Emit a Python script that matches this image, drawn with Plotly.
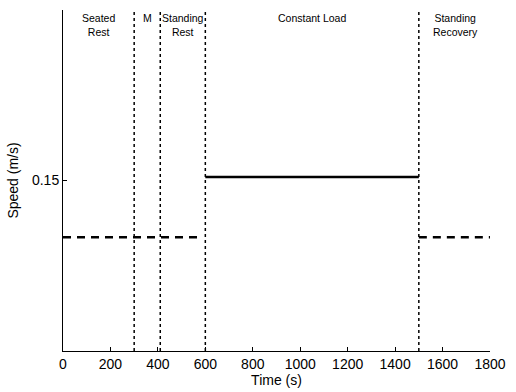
import plotly.graph_objects as go

# Phase boundaries (s)
boundaries = [300, 410, 600, 1500]
# Speed segments
dashed_rest_t = [0, 570]
dashed_rest_v = [0.1, 0.1]
load_t = [600, 1500]
load_v = [0.153, 0.153]
recovery_t = [1500, 1800]
recovery_v = [0.1, 0.1]
# Phase labels
phase_x = [150, 355, 505, 1050, 1655]
phase_text = ["Seated<br>Rest", "M", "Standing<br>Rest", "Constant Load", "Standing<br>Recovery"]
y_max = 0.3

fig = go.Figure()
for b in boundaries:
    fig.add_trace(go.Scatter(x=[b, b], y=[0, y_max], mode="lines",
                             line=dict(color="black", width=1.5, dash="dot"),
                             showlegend=False, hoverinfo="skip"))
fig.add_trace(go.Scatter(x=dashed_rest_t, y=dashed_rest_v, mode="lines",
                         line=dict(color="black", width=2.5, dash="8px,6px"), showlegend=False))
fig.add_trace(go.Scatter(x=recovery_t, y=recovery_v, mode="lines",
                         line=dict(color="black", width=2.5, dash="8px,6px"), showlegend=False))
fig.add_trace(go.Scatter(x=load_t, y=load_v, mode="lines",
                         line=dict(color="black", width=2.5), showlegend=False))

for x, t in zip(phase_x, phase_text):
    fig.add_annotation(x=x, y=1.0, xref="x", yref="paper", text=t, showarrow=False,
                       yanchor="top", font=dict(size=10.5, color="black", family="Liberation Sans"),
                       align="center")

fig.update_layout(
    width=516, height=392,
    margin=dict(l=63, r=18, t=10, b=35),
    paper_bgcolor="white", plot_bgcolor="white",
    font=dict(family="Liberation Sans", color="black", size=12),
    xaxis=dict(range=[0, 1800], tickvals=[0, 200, 400, 600, 800, 1000, 1200, 1400, 1600, 1800],
               showline=True, linecolor="black", linewidth=1, ticks="inside", ticklen=4,
               tickcolor="black", showgrid=False, zeroline=False, tickfont=dict(size=14),
               title=dict(text="Time (s)", standoff=0, font=dict(size=14))),
    yaxis=dict(range=[0, y_max], tickvals=[0.15], ticktext=["0.15"],
               showline=True, linecolor="black", linewidth=1, ticks="inside", ticklen=4,
               tickcolor="black", showgrid=False, zeroline=False, tickfont=dict(size=14),
               title=dict(text="Speed (m/s)", standoff=10, font=dict(size=14))),
)
fig.write_html("out.html")
